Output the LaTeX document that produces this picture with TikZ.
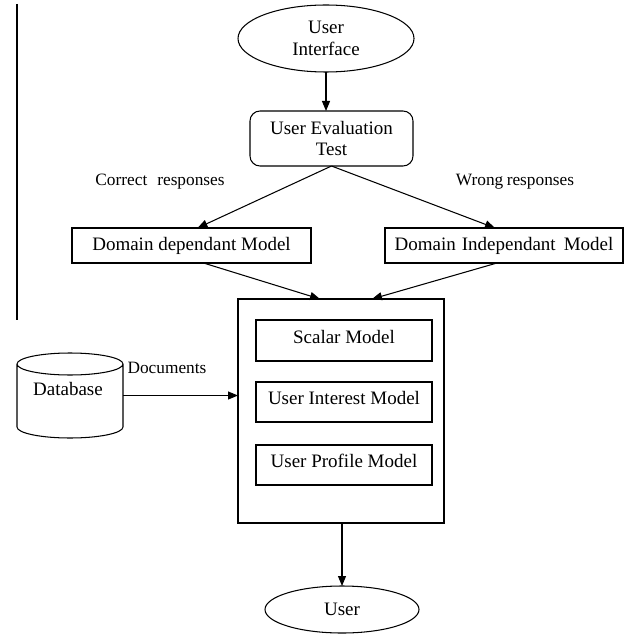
\documentclass[tikz,border=0pt]{standalone}
\usepackage{fontspec}
\setmainfont{Liberation Serif}
\usetikzlibrary{arrows.meta,shapes.geometric,calc}
\begin{document}
\begin{tikzpicture}[x=1pt,y=-1pt,
  line width=1.05pt,
  every node/.style={inner sep=0pt,outer sep=0pt},
  arr/.style={-{Triangle[length=10pt,width=8pt]}},
  boxtxt/.style={font=\fontsize{19}{21.5}\selectfont,align=center},
  lbl/.style={font=\fontsize{17.3}{20}\selectfont},
  rbox/.style={draw,rectangle,boxtxt,minimum width=#1},
]
\useasboundingbox (0,0) rectangle (636,636);
\fill[white] (0,0) rectangle (636,636);
% left vertical rule
\draw (17,4) -- (17,320);

\node[draw,ellipse,boxtxt,minimum width=176,minimum height=67] (ui) at (326,38.5) {User\\Interface};
\node[draw,rectangle,rounded corners=10pt,boxtxt,minimum width=163,minimum height=55] (uet) at (331.5,138.5) {User Evaluation\\Test};

\node[lbl] (corr) at (160,182) {Correct\hspace{10pt}responses};
\node[lbl] (wrong) at (515,182) {Wrong\hspace{3.5pt}responses};

\node[rbox=239,minimum height=35] (ddm) at (191.5,245.5) {Domain dependant Model};
\node[rbox=238,minimum height=35] (dim) at (504,245.5) {Domain\hspace{6pt}Independant\hspace{8pt}Model};

\node[draw,rectangle,minimum width=206,minimum height=224] (big) at (341,411) {};
\node[rbox=176,minimum height=41,text depth=8pt] (scal) at (344,340.5) {Scalar Model};
\node[rbox=176,minimum height=40,text depth=8pt] (uim) at (344,402) {User Interest Model};
\node[rbox=176,minimum height=40,text depth=8pt] (upm) at (344,465) {User Profile Model};

% database cylinder
\draw (17,364) -- (17,427) arc[start angle=180,end angle=360,x radius=53pt,y radius=11pt] -- (123,364)
      arc[start angle=0,end angle=180,x radius=53pt,y radius=11pt] arc[start angle=180,end angle=360,x radius=53pt,y radius=11pt];
\node[rectangle,minimum width=106,minimum height=85] (db) at (70,395.5) {};
\node[boxtxt] (dbt) at (68,389) {Database};
\node[lbl] (docs) at (167,368) {Documents};

\node[draw,ellipse,boxtxt,minimum width=154,minimum height=47] (user) at (342,609.5) {User};

% connectors
\draw[arr] (ui.south) -- (ui.south |- uet.north);
\draw[arr] (uet.south) -- ([xshift=6]ddm.north);
\draw[arr] (uet.south) -- ([xshift=-9]dim.north);
\draw[arr] ([xshift=12]ddm.south) -- ([xshift=-21]big.north);
\draw[arr] ([xshift=-7]dim.south) -- ([xshift=31]big.north);
\draw[arr] (db.east) -- (db.east -| big.west);
\draw[arr] (user.north |- big.south) -- (user.north);
\end{tikzpicture}
\end{document}
